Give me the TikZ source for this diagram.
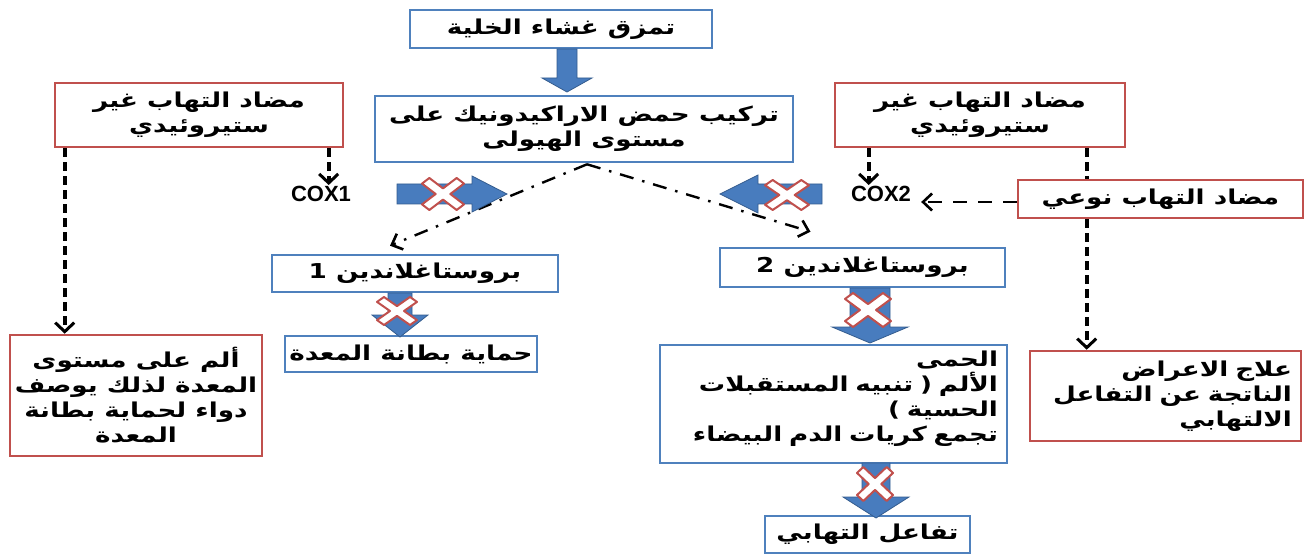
\documentclass[tikz,border=0pt]{standalone}
\usepackage{fontspec}
\usetikzlibrary{arrows.meta,calc}
\TeXXeTstate=1
\newfontfamily\arabicfont[Script=Arabic,FakeStretch=1.28]{DejaVu Sans}
\newfontfamily\coxfont{Liberation Sans}
\definecolor{bboxc}{RGB}{79,129,189}
\definecolor{rboxc}{RGB}{192,80,77}
\definecolor{arrfill}{RGB}{72,124,190}
\definecolor{arrline}{RGB}{52,92,142}
% block arrow: tail x, tail y, angle, length, shaft half width, head half width, head length
\newcommand\blockarr[7]{%
  \begin{scope}[shift={(#1,#2)},rotate=#3]
    \filldraw[fill=arrfill,draw=arrline,line width=0.8pt,line join=miter]
      (0,-#5) -- (#4-#7,-#5) -- (#4-#7,-#6) -- (#4,0) -- (#4-#7,#6) -- (#4-#7,#5) -- (0,#5) -- cycle;
  \end{scope}}
\tikzset{
  xmark/.pic={\filldraw[fill=white,draw=rboxc,line width=2pt,line join=round]
    (0,0.35) -- (0.65,1) -- (1,0.65) -- (0.35,0) -- (1,-0.65) -- (0.65,-1) --
    (0,-0.35) -- (-0.65,-1) -- (-1,-0.65) -- (-0.35,0) -- (-1,0.65) -- (-0.65,1) -- cycle;}
}
\begin{document}
\begin{tikzpicture}[x=1pt,y=-1pt,
  bbox/.style={draw=bboxc,line width=2.6pt,fill=white,inner sep=0pt,
    font=\arabicfont\bfseries\fontsize{20.5}{25}\selectfont},
  rbox/.style={bbox,draw=rboxc},
  coxlbl/.style={inner sep=0pt,font=\coxfont\bfseries\fontsize{22}{24}\selectfont},
  dashcon/.style={line width=3.6pt,dash pattern=on 9pt off 5pt},
  dashtip/.style={dashcon,-{Straight Barb[length=9pt,width=19pt,line width=3pt]}},
  dashdot/.style={line width=2.4pt,dash pattern=on 14pt off 9pt on 2.5pt off 9pt,
    -{Straight Barb[length=9pt,width=17pt,line width=2.6pt]}},
  longdash/.style={line width=2.8pt,dash pattern=on 14pt off 11pt,
    -{Straight Barb[length=9pt,width=17pt,line width=2.6pt]}}
]
\useasboundingbox (0,0) rectangle (1310,556);

% boxes
\node[bbox,minimum width=302pt,minimum height=38pt] (top) at (561,29)
  {\beginR تمزق غشاء الخلية\endR};
\node[bbox,minimum width=418pt,minimum height=66pt,align=center] (arach) at (584,129)
  {\beginR تركيب  حمض الاراكيدونيك على\endR\\\beginR مستوى الهيولى\endR};
\node[rbox,minimum width=288pt,minimum height=64pt,align=center] (redL) at (199,115)
  {\beginR مضاد التهاب غير\endR\\\beginR ستيروئيدي\endR};
\node[rbox,minimum width=290pt,minimum height=64pt,align=center] (redR) at (980,115)
  {\beginR مضاد التهاب غير\endR\\\beginR ستيروئيدي\endR};
\node[rbox,minimum width=285pt,minimum height=38pt] (noei) at (1160.5,199)
  {\beginR مضاد التهاب نوعي\endR};
\node[coxlbl] (cox1) at (321,194) {COX1};
\node[coxlbl] (cox2) at (881,194) {COX2};
\node[bbox,minimum width=286pt,minimum height=37pt] (p1) at (415,273.5)
  {\beginR بروستاغلاندين 1\endR};
\node[bbox,minimum width=252pt,minimum height=36pt] (prot) at (411,354)
  {\beginR حماية بطانة المعدة\endR};
\node[bbox,minimum width=285pt,minimum height=39pt] (p2) at (862.5,267.5)
  {\beginR بروستاغلاندين 2\endR};
\node[bbox,minimum width=347pt,minimum height=118pt,text width=329pt,align=right] (big) at (833.5,404)
  {\beginR الحمى\endR\\\beginR الألم ( تنبيه المستقبلات\endR\\\beginR الحسية )\endR\\\beginR تجمع كريات الدم البيضاء\endR\\[-9pt]\mbox{}};
\node[bbox,minimum width=205pt,minimum height=37pt] (infl) at (867.5,534.5)
  {\beginR تفاعل التهابي\endR};
\node[rbox,minimum width=252pt,minimum height=121pt,align=center] (bl) at (136,395.5)
  {\beginR ألم على مستوى\endR\\\beginR المعدة لذلك يوصف\endR\\\beginR دواء لحماية بطانة\endR\\\beginR المعدة\endR};
\node[rbox,minimum width=271pt,minimum height=90pt,text width=253pt,align=right] (br) at (1165.5,396)
  {\beginR علاج الاعراض\endR\\\beginR الناتجة عن التفاعل\endR\\\beginR الالتهابي\endR};

% anchor points of the dashed connectors
\coordinate (sL1) at ([xshift=11pt]redL.south west);
\coordinate (sL2) at ([xshift=275pt]redL.south west);
\coordinate (sR1) at ([xshift=35pt]redR.south west);
\coordinate (sR2) at ([xshift=253pt]redR.south west);

% dashed connectors
\draw[dashtip] (sL1) -- (sL1 |- bl.north);
\draw[dashtip] (sL2) -- ([yshift=1pt]sL2 |- cox1.north);
\draw[dashtip] (sR1) -- ([yshift=1pt]sR1 |- cox2.north);
\draw[dashcon] (sR2) -- (sR2 |- noei.north);
\draw[dashtip] (sR2 |- noei.south) -- (sR2 |- br.north);
\draw[longdash] ([yshift=-3pt]noei.west) -- ([xshift=10pt,yshift=-8pt]cox2.east);

% dash-dot connectors from the arachidonic box
\draw[dashdot] ([xshift=3pt,yshift=-1pt]arach.south) -- ([xshift=-25pt,yshift=8pt]p1.north);
\draw[dashdot] ([xshift=3pt,yshift=-1pt]arach.south) -- ([xshift=-52pt,yshift=15pt]p2.north);

% block arrows
\blockarr{567}{49}{-90}{43}{10}{25}{14}
\blockarr{397}{194}{0}{110}{10}{18}{35}
\blockarr{822}{194}{180}{102}{10}{19}{38}
\blockarr{400}{293}{-90}{44}{12}{28}{22}
\blockarr{870}{288}{-90}{55}{20}{38}{16}
\blockarr{876}{463}{-90}{55}{14}{33}{21}

% blocking crosses
\pic[xscale=21,yscale=16] at (443,194) {xmark};
\pic[xscale=22,yscale=15] at (787,195) {xmark};
\pic[xscale=20,yscale=14] at (397,311) {xmark};
\pic[xscale=23,yscale=17] at (868,310) {xmark};
\pic[xscale=18,yscale=17] at (875,484) {xmark};
\end{tikzpicture}
\end{document}
